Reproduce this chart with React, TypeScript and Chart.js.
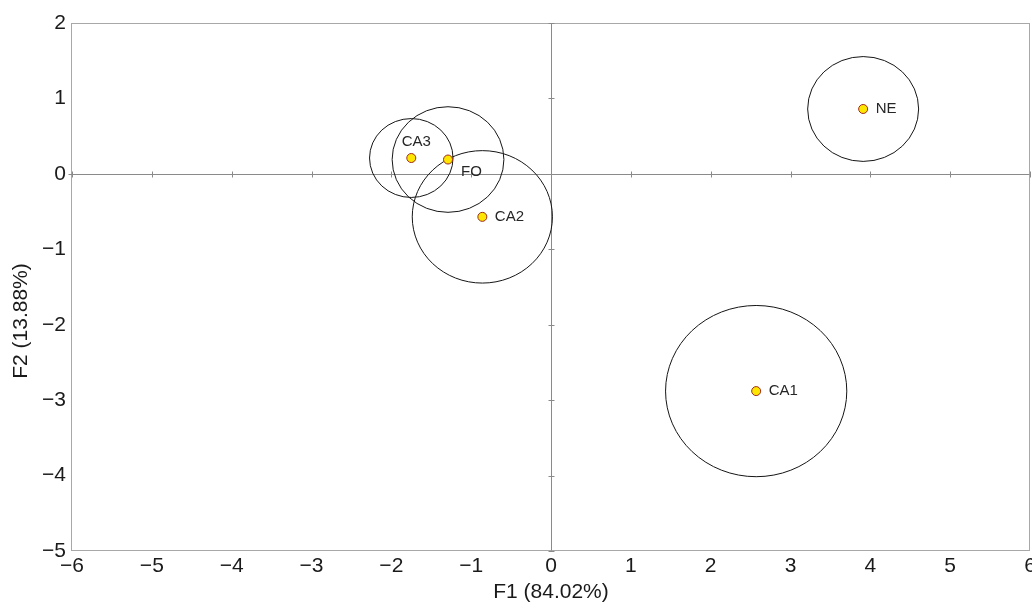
import React, { useEffect, useRef } from "react";
import { Chart, registerables } from "chart.js";

Chart.register(...registerables);

// ---- data ----
const names = ["CA1", "CA2", "CA3", "FO", "NE"];
const f1 = [2.57, -0.86, -1.75, -1.29, 3.91];
const f2 = [-2.88, -0.57, 0.21, 0.19, 0.86];
const radii = [1.135, 0.878, 0.523, 0.7, 0.695];
const labelAnchors = ["right", "right", "above", "belowRight", "right"];

const xTitle = "F1 (84.02%)";
const yTitle = "F2 (13.88%)";
const xMin = -6, xMax = 6, yMin = -5, yMax = 2;

const FONT = '"Liberation Sans", Arial, sans-serif';
const fmt = (v: number) => (v < 0 ? "\u2212" + Math.abs(v) : String(v));

const decorPlugin = {
  id: "decor",
  beforeDatasetsDraw(chart: any) {
    const { ctx, chartArea: a, scales } = chart;
    const x = scales.x, y = scales.y;
    ctx.save();
    // frame
    ctx.strokeStyle = "#a8a8a8";
    ctx.lineWidth = 1;
    const L = Math.round(a.left) - 0.5, R = Math.round(a.right) - 0.5;
    const T = Math.round(a.top) + 0.5, B = Math.round(a.bottom) - 0.5;
    ctx.strokeRect(L, T, R - L, B - T);
    // zero lines
    const x0 = Math.round(x.getPixelForValue(0)) + 0.5;
    const y0 = Math.round(y.getPixelForValue(0)) + 0.5;
    ctx.strokeStyle = "#8a8a8a";
    ctx.beginPath();
    ctx.moveTo(L - 3, y0);
    ctx.lineTo(R, y0);
    ctx.moveTo(x0, T);
    ctx.lineTo(x0, B);
    // tick marks on zero lines
    for (let i = xMin; i <= xMax; i++) {
      const px = Math.round(x.getPixelForValue(i)) + 0.5;
      ctx.moveTo(px, y0 - 3);
      ctx.lineTo(px, y0 + 3);
    }
    for (let j = yMin; j <= yMax; j++) {
      const py = Math.round(y.getPixelForValue(j)) + 0.5;
      ctx.moveTo(x0 - 3, py);
      ctx.lineTo(x0 + 3, py);
    }
    ctx.stroke();
    // confidence circles
    ctx.strokeStyle = "#151515";
    ctx.lineWidth = 1;
    for (let k = 0; k < f1.length; k++) {
      const cx = x.getPixelForValue(f1[k]);
      const cy = y.getPixelForValue(f2[k]);
      const rx = Math.abs(x.getPixelForValue(f1[k] + radii[k]) - cx);
      const ry = Math.abs(y.getPixelForValue(f2[k] + radii[k]) - cy);
      ctx.beginPath();
      ctx.ellipse(cx, cy, rx, ry, 0, 0, Math.PI * 2);
      ctx.stroke();
    }
    // y title
    ctx.fillStyle = "#1a1a1a";
    ctx.font = `21px ${FONT}`;
    ctx.textAlign = "center";
    ctx.textBaseline = "middle";
    ctx.translate(21, 321);
    ctx.rotate(-Math.PI / 2);
    ctx.fillText(yTitle, 0, 0);
    ctx.restore();
  },
  afterDatasetsDraw(chart: any) {
    const { ctx, scales } = chart;
    const x = scales.x, y = scales.y;
    ctx.save();
    ctx.fillStyle = "#262626";
    ctx.font = `15px ${FONT}`;
    ctx.textBaseline = "middle";
    for (let k = 0; k < names.length; k++) {
      const px = x.getPixelForValue(f1[k]);
      const py = y.getPixelForValue(f2[k]);
      const anc = labelAnchors[k];
      if (anc === "above") {
        ctx.textAlign = "center";
        ctx.fillText(names[k], px + 5, py - 16);
      } else if (anc === "belowRight") {
        ctx.textAlign = "left";
        ctx.fillText(names[k], px + 13, py + 12);
      } else {
        ctx.textAlign = "left";
        ctx.fillText(names[k], px + 12.5, py);
      }
    }
    ctx.restore();
  },
};

export default function App() {
  const ref = useRef<HTMLCanvasElement | null>(null);
  useEffect(() => {
    if (!ref.current) return;
    Chart.defaults.font.family = FONT;
    const chart = new Chart(ref.current, {
      type: "scatter",
      data: {
        datasets: [
          {
            data: f1.map((v, i) => ({ x: v, y: f2[i] })),
            pointRadius: 4.5,
            pointBorderWidth: 1,
            backgroundColor: "#ffe600",
            borderColor: "#9e2a1c",
          },
        ],
      },
      options: {
        responsive: false,
        animation: false,
        layout: { padding: { top: 23, right: 10, left: 0, bottom: 0 } },
        plugins: { legend: { display: false }, tooltip: { enabled: false } },
        scales: {
          x: {
            type: "linear",
            min: xMin,
            max: xMax,
            grid: { display: false, drawTicks: false },
            border: { display: false },
            ticks: {
              stepSize: 1,
              padding: 3,
              color: "#1a1a1a",
              font: { size: 21 },
              maxRotation: 0,
              callback: (v: any) => fmt(Number(v)),
            },
            title: {
              display: true,
              text: xTitle,
              color: "#1a1a1a",
              font: { size: 21 },
              padding: { top: 0, bottom: -3 },
            },
            afterFit: (s: any) => {
              s.height = 51;
            },
          },
          y: {
            type: "linear",
            min: yMin,
            max: yMax,
            grid: { display: false, drawTicks: false },
            border: { display: false },
            ticks: {
              stepSize: 1,
              padding: 6,
              color: "#1a1a1a",
              font: { size: 21 },
              callback: (v: any) => fmt(Number(v)),
            },
            afterFit: (s: any) => {
              s.width = 72;
            },
          },
        },
      },
      plugins: [decorPlugin],
    } as any);
    return () => chart.destroy();
  }, []);
  return (
    <div
      style={{
        position: "absolute",
        left: 0,
        top: 0,
        width: 1032,
        height: 602,
        overflow: "hidden",
      }}
    >
      <canvas ref={ref} width={1040} height={602} style={{ display: "block" }} />
    </div>
  );
}
